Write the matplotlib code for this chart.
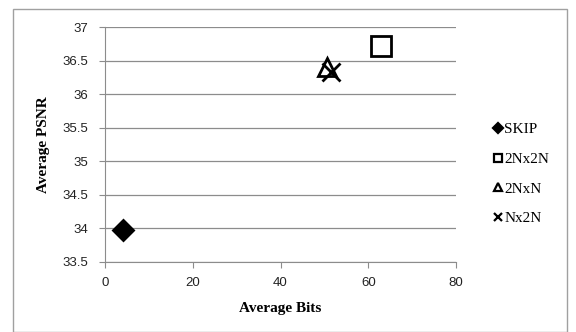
import matplotlib
matplotlib.use("Agg")
import matplotlib.pyplot as plt
from matplotlib.patches import Rectangle

# data
modes = ["SKIP", "2Nx2N", "2NxN", "Nx2N"]
avg_bits = [4.0, 63.0, 50.5, 51.5]
avg_psnr = [33.97, 36.72, 36.40, 36.33]
markers = ["D", "s", "^", "x"]
sizes = [10, 15, 13, 13]
filled = [True, False, False, False]

x_ticks = [0, 20, 40, 60, 80]
y_ticks = [33.5, 34, 34.5, 35, 35.5, 36, 36.5, 37]

fig = plt.figure(figsize=(5.76, 3.32), dpi=100)
fig.patches.append(Rectangle((13 / 576, 0), 554 / 576, 1 - 9 / 332, transform=fig.transFigure,
                             fill=False, edgecolor="#a0a0a0", linewidth=1.0))

ax = fig.add_axes([105 / 576, 1 - 262 / 332, 351 / 576, 235 / 332])

for name, x, y, m, s, f in zip(modes, avg_bits, avg_psnr, markers, sizes, filled):
    ax.plot([x], [y], linestyle="none", marker=m, markersize=s,
            markerfacecolor="black" if f else "none", markeredgecolor="black",
            markeredgewidth=2, label=name)

ax.set_xlim(0, 80)
ax.set_ylim(33.5, 37)
ax.set_xticks(x_ticks)
ax.set_yticks(y_ticks)
ax.set_yticklabels([f"{v:g}" for v in y_ticks])
ax.grid(axis="y", color="#8c8c8c", linewidth=0.9)
ax.set_axisbelow(True)
for side in ["top", "right"]:
    ax.spines[side].set_visible(False)
for side in ["left", "bottom"]:
    ax.spines[side].set_color("#8c8c8c")
ax.tick_params(direction="out", length=4, color="#8c8c8c", labelsize=9.5, labelcolor="#222222")
ax.tick_params(axis="x", pad=7)
ax.tick_params(axis="y", pad=8)
for lbl in ax.get_xticklabels() + ax.get_yticklabels():
    lbl.set_family("Liberation Sans")

ax.set_xlabel("Average Bits", fontfamily="Liberation Serif", fontweight="bold", fontsize=11, labelpad=9)
ax.set_ylabel("Average PSNR", fontfamily="Liberation Serif", fontweight="bold", fontsize=11, labelpad=9)

leg_handles = []
for name, m, f in zip(modes, markers, filled):
    h, = ax.plot([], [], linestyle="none", marker=m, markersize=6 if m != "D" else 5,
                 markerfacecolor="black" if f else "none", markeredgecolor="black",
                 markeredgewidth=1.6, label=name)
    leg_handles.append(h)
fig.legend(handles=leg_handles, loc="center left", bbox_to_anchor=(480 / 576, 1 - 174 / 332),
           frameon=False, prop={"family": "Liberation Serif", "size": 11},
           handlelength=0.6, handletextpad=0.1, labelspacing=1.05)

plt.savefig("out.png", dpi=100)
